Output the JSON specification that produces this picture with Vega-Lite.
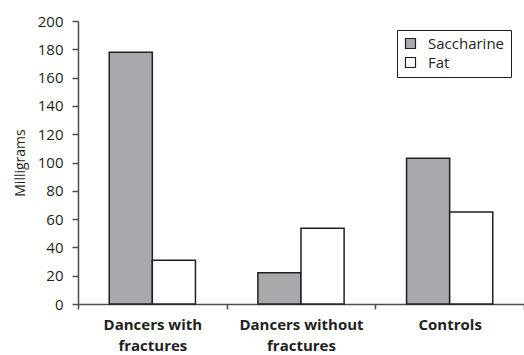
{
  "$schema": "https://vega.github.io/schema/vega-lite/v6.json",
  "autosize": "none",
  "width": 446,
  "height": 283,
  "padding": {"left": 78, "top": 21, "right": 0, "bottom": 51},
  "background": "white",
  "data": {
    "values": [
      {"group": "Dancers with fractures", "type": "Saccharine", "mg": 178},
      {"group": "Dancers with fractures", "type": "Fat", "mg": 31},
      {"group": "Dancers without fractures", "type": "Saccharine", "mg": 22},
      {"group": "Dancers without fractures", "type": "Fat", "mg": 53.5},
      {"group": "Controls", "type": "Saccharine", "mg": 103},
      {"group": "Controls", "type": "Fat", "mg": 65}
    ]
  },
  "mark": {"type": "bar", "stroke": "#231f20", "strokeWidth": 1.5},
  "encoding": {
    "x": {
      "field": "group",
      "type": "nominal",
      "sort": ["Dancers with fractures", "Dancers without fractures", "Controls"],
      "scale": {"paddingInner": 0, "paddingOuter": 0},
      "axis": {
        "title": null,
        "labelAngle": 0,
        "tickBand": "extent",
        "labelFont": "Open Sans",
        "labelFontWeight": "bold",
        "labelFontSize": 15,
        "labelColor": "#231f20",
        "labelPadding": 8,
        "labelLineHeight": 21,
        "labelExpr": "!datum.label ? '' : (indexof(datum.label, ' fractures') < 0 ? datum.label : [replace(datum.label, ' fractures', ''), 'fractures'])",
        "domainColor": "#4d4d4d",
        "domainWidth": 1.5,
        "tickColor": "#4d4d4d",
        "tickWidth": 1.5,
        "tickSize": 5
      }
    },
    "xOffset": {
      "field": "type",
      "type": "nominal",
      "sort": ["Saccharine", "Fat"],
      "scale": {"paddingInner": 0, "paddingOuter": 0.724}
    },
    "y": {
      "field": "mg",
      "type": "quantitative",
      "scale": {"domain": [0, 200], "nice": false},
      "axis": {
        "title": "Milligrams",
        "titleFont": "Open Sans",
        "titleFontSize": 14,
        "titleFontWeight": "normal",
        "titleColor": "#231f20",
        "titlePadding": 10,
        "values": [0, 20, 40, 60, 80, 100, 120, 140, 160, 180, 200],
        "grid": false,
        "labelFont": "Open Sans",
        "labelFontSize": 15,
        "labelColor": "#231f20",
        "labelPadding": 9,
        "domainColor": "#4d4d4d",
        "domainWidth": 1.5,
        "tickColor": "#4d4d4d",
        "tickWidth": 1.5,
        "tickSize": 6
      }
    },
    "color": {
      "field": "type",
      "type": "nominal",
      "scale": {"domain": ["Saccharine", "Fat"], "range": ["#a7a9ac", "#ffffff"]},
      "legend": {
        "title": null,
        "orient": "none",
        "legendX": 319,
        "legendY": 9,
        "strokeColor": "#231f20",
        "padding": 6,
        "symbolType": "square",
        "symbolSize": 100,
        "symbolStrokeColor": "#231f20",
        "symbolStrokeWidth": 1.2,
        "labelFont": "Open Sans",
        "labelFontSize": 15,
        "labelColor": "#231f20",
        "labelOffset": 10,
        "rowPadding": 3
      }
    }
  },
  "config": {"view": {"stroke": null}}
}
